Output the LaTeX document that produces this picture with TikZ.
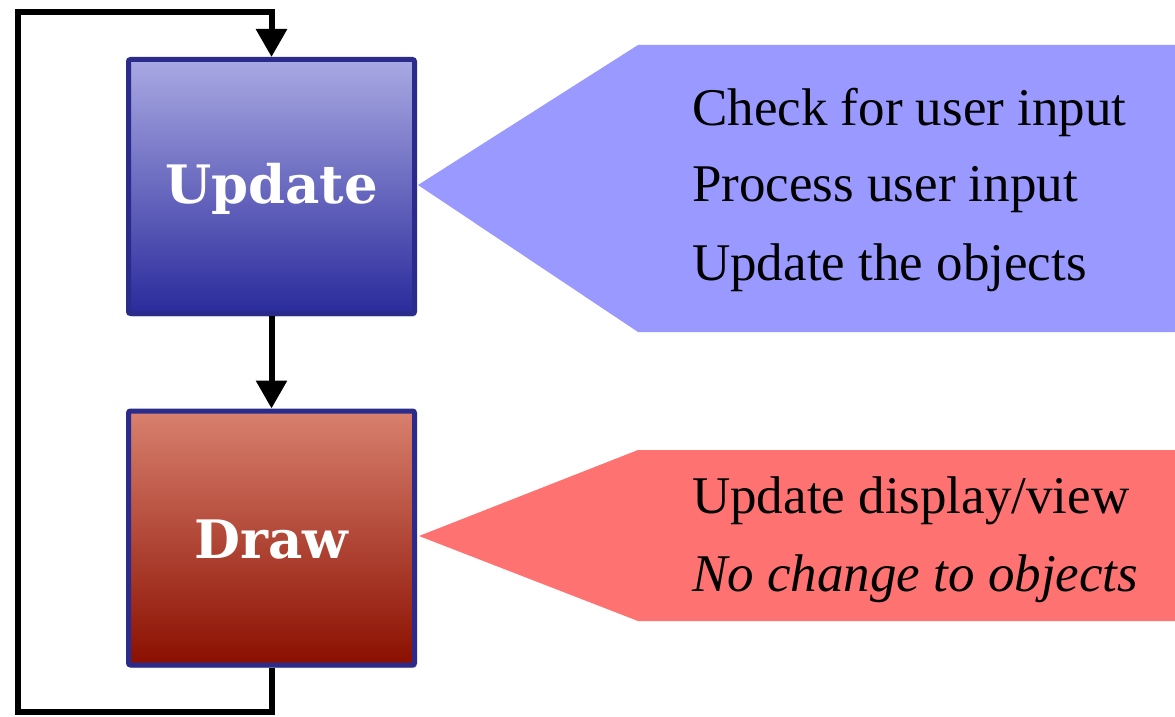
\documentclass[tikz,border=0pt]{standalone}
\usepackage{fontspec}
\setmainfont{Liberation Serif}
\newfontfamily\boxfont{DejaVu Serif}
\usetikzlibrary{arrows.meta,shadows,calc}
\definecolor{bluetop}{HTML}{A9A9E3}
\definecolor{bluebot}{HTML}{2A2A9C}
\definecolor{redtop}{HTML}{D9806E}
\definecolor{redbot}{HTML}{8A0F00}
\definecolor{boxborder}{HTML}{2B2B8C}
\definecolor{calloutblue}{HTML}{9999FF}
\definecolor{calloutred}{HTML}{FF7272}
\tikzset{
  stagebox/.style={draw=boxborder, line width=5pt, rounded corners=2pt,
    minimum width=286pt, minimum height=254pt, inner sep=0pt,
    drop shadow={shadow xshift=2pt, shadow yshift=-3pt, opacity=0.35}},
  flow/.style={line width=6pt, -{Triangle[length=28pt,width=30pt]}},
  loopline/.style={line width=6pt},
  titletext/.style={font=\boxfont\bfseries\fontsize{53}{53}\selectfont, text=white},
  listtext/.style={font=\fontsize{53}{78}\selectfont, align=left, anchor=west, inner sep=0pt}
}
\begin{document}
\begin{tikzpicture}[x=1pt,y=-1pt]
\useasboundingbox (0,0) rectangle (1175,717);
% callouts
\fill[calloutblue] (418,185) -- (638,45) -- (1175,45) -- (1175,332) -- (638,332) -- cycle;
\fill[calloutred] (419,536) -- (638,450) -- (1175,450) -- (1175,621) -- (638,621) -- cycle;
% boxes
\node[stagebox, top color=bluetop, bottom color=bluebot] (upd) at (271.5,186.5) {};
\node[stagebox, top color=redtop, bottom color=redbot] (drw) at (271.5,538) {};
\node[titletext] (updlabel) at ($(upd.center)+(0,2)$) {Update};
\node[titletext] (drwlabel) at ($(drw.center)+(0,2)$) {Draw};
% connectors
\coordinate (topleft) at (18,12);
\coordinate (botleft) at (18,712);
\draw[flow] (upd.south) -- (drw.north);
\draw[loopline, line join=miter] (drw.south) -- (drw.south |- botleft) -- (botleft) -- (topleft) -- (upd.north |- topleft) -- ++(0,15);
\draw[flow] ($(upd.north |- topleft)+(0,10)$) -- (upd.north);
% texts
\node[listtext] (t1) at (692,112) {Check for user input};
\node[listtext] (t2) at (692,190) {Process user input};
\node[listtext] (t3) at (692,268) {Update the objects};
\node[listtext] (t4) at (692,501) {Update display/view};
\node[listtext] (t5) at (692,579) {\itshape No change to objects};
\end{tikzpicture}
\end{document}
